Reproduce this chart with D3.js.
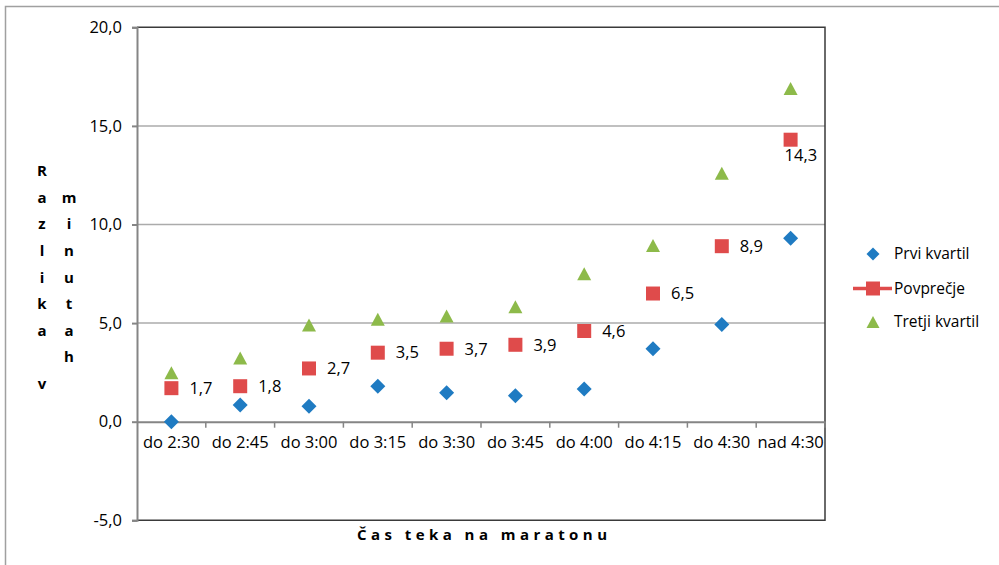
<!DOCTYPE html>
<html>
<head>
<meta charset="utf-8">
<script src="https://cdn.jsdelivr.net/npm/d3@7"></script>
<style>
  html, body { margin: 0; padding: 0; background: #fff; }
  svg { display: block; }
  text { font-family: "Open Sans", "DejaVu Sans", sans-serif; fill: #000; }
</style>
</head>
<body>
<script>
const categories = ["do 2:30", "do 2:45", "do 3:00", "do 3:15", "do 3:30", "do 3:45", "do 4:00", "do 4:15", "do 4:30", "nad 4:30"];
const prviKvartil = [0.0, 0.85, 0.78, 1.8, 1.47, 1.32, 1.66, 3.7, 4.93, 9.3];
const povprecje = [1.7, 1.8, 2.7, 3.5, 3.7, 3.9, 4.6, 6.5, 8.9, 14.3];
const tretjiKvartil = [2.48, 3.23, 4.9, 5.2, 5.36, 5.83, 7.5, 8.93, 12.6, 16.9];
const yTicks = [-5, 0, 5, 10, 15, 20];
const seriesNames = ["Prvi kvartil", "Povprečje", "Tretji kvartil"];
const yTitleCol1 = ["R", "a", "z", "l", "i", "k", "a", "", "v"];
const yTitleCol2 = ["", "m", "i", "n", "u", "t", "a", "h"];
const xTitle = "Čas teka na maratonu";

const W = 999, H = 565;
const colors = { blue: "#1f7bc2", red: "#df4b4b", green: "#8dba4a" };
const fmt = v => d3.format(".1f")(v).replace(".", ",").replace("\u2212", "-");

const svg = d3.select("body").append("svg").attr("width", W).attr("height", H);

// outer chart border
svg.append("rect").attr("x", 5.5).attr("y", 6.5).attr("width", W + 10).attr("height", H + 10)
  .attr("fill", "none").attr("stroke", "#a0a0a0").attr("stroke-width", 1.5);

const x = d3.scaleBand().domain(categories).range([137, 825]).padding(0);
const y = d3.scaleLinear().domain([-5, 20]).range([520.3, 27.3]);
const cx = c => x(c) + x.bandwidth() / 2;

// gridlines
svg.append("g").selectAll("line").data(yTicks.filter(v => v > 0 && v < 20)).join("line")
  .attr("x1", 137).attr("x2", 825).attr("y1", d => y(d)).attr("y2", d => y(d))
  .attr("stroke", "#ababab").attr("stroke-width", 1.5);

// plot border (top, right, bottom)
svg.append("path")
  .attr("d", `M137,${y(20)}H825V${y(-5)}H137`)
  .attr("fill", "none").attr("stroke", "#3a3a3a").attr("stroke-width", 1.5);

// y axis
const yAxis = d3.axisLeft(y).tickValues(yTicks).tickSize(5).tickPadding(10).tickFormat(fmt);
const gy = svg.append("g").attr("transform", "translate(137,0)").call(yAxis);
gy.select(".domain").attr("stroke", "#858585").attr("stroke-width", 2);
gy.selectAll(".tick line").attr("stroke", "#858585").attr("stroke-width", 2);
gy.selectAll(".tick text").attr("font-size", 16.5).attr("font-family", "Open Sans").attr("fill", "#000");

// x axis at zero
const xAxis = d3.axisBottom(x).tickSize(0).tickPadding(15);
const gx = svg.append("g").attr("transform", `translate(0,${y(0)})`).call(xAxis);
gx.select(".domain").attr("stroke", "#858585").attr("stroke-width", 2);
gx.selectAll(".tick text").attr("font-size", 16.5).attr("font-family", "Open Sans").attr("fill", "#000");
// boundary ticks
svg.append("g").selectAll("line").data(categories.slice(1).concat(["__end"])).join("line")
  .attr("x1", d => d === "__end" ? 825 : x(d)).attr("x2", d => d === "__end" ? 825 : x(d))
  .attr("y1", y(0)).attr("y2", y(0) + 6)
  .attr("stroke", "#858585").attr("stroke-width", 1.5);

// marker paths
const diamond = (px, py, r) => `M${px},${py - r}L${px + r},${py}L${px},${py + r}L${px - r},${py}Z`;
const square = (px, py, r) => `M${px - r},${py - r}H${px + r}V${py + r}H${px - r}Z`;
const triangle = (px, py, r) => `M${px},${py - r + 0.5}L${px + r},${py + r - 0.5}H${px - r}Z`;

// Prvi kvartil
svg.append("g").selectAll("path").data(prviKvartil).join("path")
  .attr("d", (d, i) => diamond(cx(categories[i]), y(d), 7.5))
  .attr("fill", colors.blue);

// Tretji kvartil
svg.append("g").selectAll("path").data(tretjiKvartil).join("path")
  .attr("d", (d, i) => triangle(cx(categories[i]), y(d), 7))
  .attr("fill", colors.green);

// Povprečje
svg.append("g").selectAll("path").data(povprecje).join("path")
  .attr("d", (d, i) => square(cx(categories[i]), y(d), 7))
  .attr("fill", colors.red);

// data labels
svg.append("g").selectAll("text").data(povprecje).join("text")
  .attr("x", (d, i) => i === povprecje.length - 1 ? cx(categories[i]) - 6 : cx(categories[i]) + 18)
  .attr("y", (d, i) => i === povprecje.length - 1 ? y(d) + 16 : y(d))
  .attr("dy", "0.35em")
  .attr("font-size", 16.5)
  .text(d => fmt(d));

// legend
const legendY = [254, 288.5, 322];
const lg = svg.append("g");
lg.append("path").attr("d", diamond(873, legendY[0], 6.5)).attr("fill", colors.blue);
lg.append("line").attr("x1", 853).attr("x2", 892).attr("y1", legendY[1]).attr("y2", legendY[1])
  .attr("stroke", colors.red).attr("stroke-width", 3.5);
lg.append("path").attr("d", square(873, legendY[1], 7)).attr("fill", colors.red);
lg.append("path").attr("d", triangle(873, legendY[2], 6.5)).attr("fill", colors.green);
lg.selectAll("text").data(seriesNames).join("text")
  .attr("x", 894).attr("y", (d, i) => legendY[i]).attr("dy", "0.35em")
  .attr("font-size", 15.5).text(d => d);

// y title (stacked letters in two columns)
const rowY = i => 171 + i * 26.6;
svg.append("g").selectAll("text").data(yTitleCol1).join("text")
  .attr("x", 42).attr("y", (d, i) => rowY(i)).attr("dy", "0.35em")
  .attr("text-anchor", "middle").attr("font-size", 15).attr("font-weight", "bold").text(d => d);
svg.append("g").selectAll("text").data(yTitleCol2).join("text")
  .attr("x", 69).attr("y", (d, i) => rowY(i)).attr("dy", "0.35em")
  .attr("text-anchor", "middle").attr("font-size", 15).attr("font-weight", "bold").text(d => d);

// x title
svg.append("text").attr("x", 357).attr("y", 535).attr("dy", "0.35em")
  .attr("font-size", 15).attr("font-weight", "bold")
  .attr("textLength", 250).attr("lengthAdjust", "spacing")
  .text(xTitle);
</script>
</body>
</html>
